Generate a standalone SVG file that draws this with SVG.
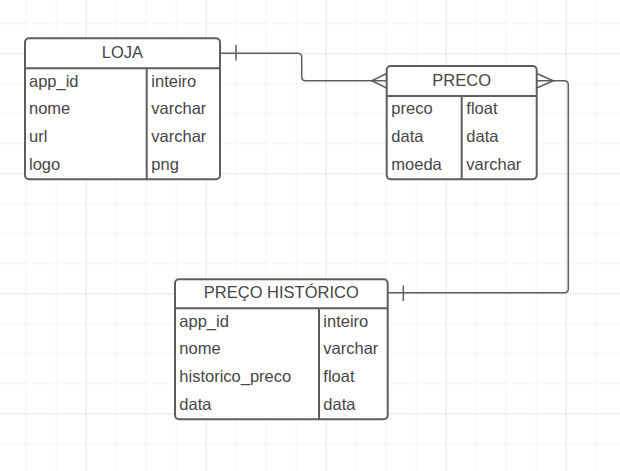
<svg xmlns="http://www.w3.org/2000/svg" width="620" height="471" viewBox="0 0 620 471">
<defs>
<pattern id="minor" x="25.7" y="23.3" width="30" height="30" patternUnits="userSpaceOnUse">
<path d="M0 0 H30 M0 0 V30" fill="none" stroke="#ebebeb" stroke-width="1"/>
</pattern>
<pattern id="major" x="85.7" y="53.3" width="120" height="120" patternUnits="userSpaceOnUse">
<path d="M0 0 H120 M0 0 V120" fill="none" stroke="#dadada" stroke-width="1"/>
</pattern>
</defs>
<style>
.box{fill:#fff;stroke:#5e5e5e;stroke-width:2}
.ln{fill:none;stroke:#5e5e5e;stroke-width:2}
.cn{fill:none;stroke:#5e5e5e;stroke-width:1.5}
text{font-family:"Liberation Sans",Arial,sans-serif;font-size:16.5px;fill:#464646}
.t{text-anchor:middle}
</style>
<rect width="620" height="471" fill="#fff"/>
<rect width="620" height="471" fill="url(#minor)"/>
<rect width="620" height="471" fill="url(#major)"/>

<g id="connectors">
<path class="cn" d="M220 53.3 H297.7 Q301.7 53.3 301.7 57.3 V76.7 Q301.7 80.7 305.7 80.7 H386.7"/>
<path class="cn" d="M236 45 V60.5"/>
<path class="cn" d="M386.7 73.5 L371.7 80.7 L386.7 88"/>
<path class="cn" d="M536.7 80.7 H564.3 Q568.3 80.7 568.3 84.7 V288.7 Q568.3 292.7 564.3 292.7 H387.7"/>
<path class="cn" d="M536.7 73.5 L553.3 80.7 L536.7 88"/>
<path class="cn" d="M403.3 285.5 V301"/>
</g>

<g id="loja">
<rect class="box" x="25" y="38.3" width="195" height="141" rx="4"/>
<path class="ln" d="M25 68.3 H220 M146.7 68.3 V179.3"/>
<text class="t" x="122.5" y="57.7">LOJA</text>
<text x="29" y="86.7">app_id</text>
<text x="29" y="114.3">nome</text>
<text x="29" y="142">url</text>
<text x="29" y="169.5">logo</text>
<text x="151.3" y="86.7">inteiro</text>
<text x="151.3" y="114.3">varchar</text>
<text x="151.3" y="142">varchar</text>
<text x="151.3" y="169.5">png</text>
</g>

<g id="preco">
<rect class="box" x="386.7" y="66" width="150" height="113.3" rx="4"/>
<path class="ln" d="M386.7 96 H536.7 M461.7 96 V179.3"/>
<text class="t" x="461.7" y="85.7">PRECO</text>
<text x="391.3" y="114.3">preco</text>
<text x="391.3" y="142">data</text>
<text x="391.3" y="169.5">moeda</text>
<text x="466.3" y="114.3">float</text>
<text x="466.3" y="142">data</text>
<text x="466.3" y="169.5">varchar</text>
</g>

<g id="preco-historico">
<rect class="box" x="175" y="279.3" width="212.7" height="140" rx="4"/>
<path class="ln" d="M175 308.3 H387.7 M319 308.3 V419.3"/>
<text class="t" x="281.3" y="297.5">PREÇO HISTÓRICO</text>
<text x="179.3" y="326.7">app_id</text>
<text x="179.3" y="354.3">nome</text>
<text x="179.3" y="382">historico_preco</text>
<text x="179.3" y="409.5">data</text>
<text x="323.3" y="326.7">inteiro</text>
<text x="323.3" y="354.3">varchar</text>
<text x="323.3" y="382">float</text>
<text x="323.3" y="409.5">data</text>
</g>
</svg>
